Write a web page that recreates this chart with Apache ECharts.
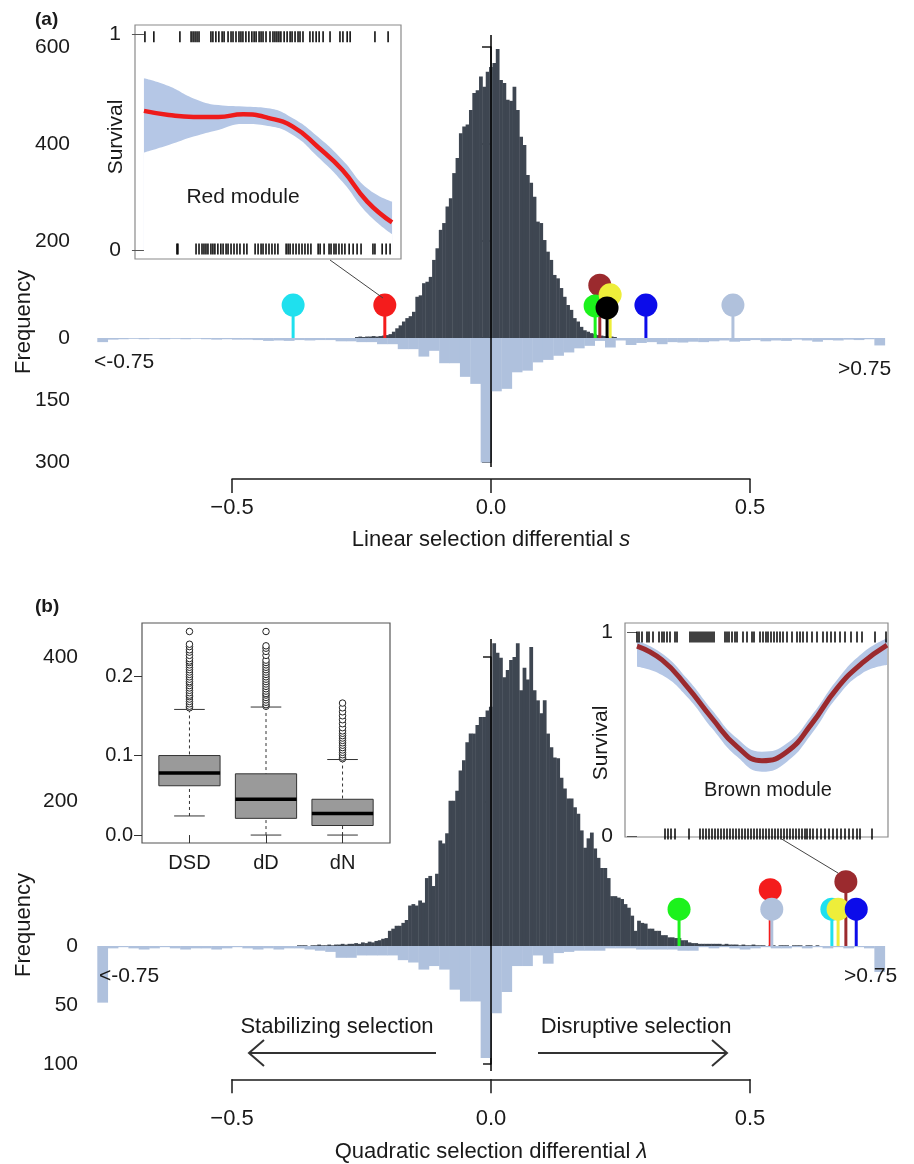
<!DOCTYPE html>
<html>
<head>
<meta charset="utf-8">
<script src="https://cdn.jsdelivr.net/npm/echarts@6/dist/echarts.min.js"></script>
<style>
  html, body { margin: 0; padding: 0; background: #fff; }
  #chart { width: 914px; height: 1164px; }
</style>
</head>
<body>
<div id="chart"></div>
<script>
const FONT = 'Liberation Sans, Arial, Helvetica, sans-serif';
const INK = '#1a1a1a';
const DARK = '#3e4651';
const LIGHT = '#afc1dd';
const BAND = '#b5c7e6';

// ---- panel (a): linear selection differential s ----
const aTopStart = -0.2625, aTopBin = 0.00647;
const aTopCounts = [2,3,2,3,3,4,3,4,5,6, 8,13,20,26,34,41,45,54,85,88,
  113,116,126,161,185,223,237,271,288,340, 371,422,436,440,470,505,511,539,518,549,
  559,567,596,532,526,491,489,518,470,415, 398,336,320,291,240,237,202,178,161,130,
  123,103,85,68,58,41,34,23,16,13, 10,8,6,5,4,3,3,2];

// wide bins below the axis (0.02 wide, outer bins are the overflow classes)
const binStart = -0.76, binWidth = 0.02;
const aBelowCounts = [10,4,3,2,3,2,3,2,3,2,3,4,3,4,4,5,7,6,7,5,6,5,5,8,8,10,10,15,15,27,27,45,31,61,61,94,111,301,
  129,123,83,79,59,53,43,35,25,19,7,23,6,17,12,10,15,10,11,9,10,8,6,9,7,5,8,6,7,4,6,9,5,6,4,5,3,18];

const aDotX = [-0.382, -0.205, 0.467, 0.299, 0.210, 0.201, 0.230, 0.224];
const aDotLevel = [68, 68, 68, 68, 109, 66, 89, 62];
const aDotColor = ['#1fe0ee', '#f41c1c', '#b0c1dc', '#0c0cea', '#9b2a2e', '#1cf21c', '#eeee3a', '#000000'];

// red module inset
const redU = [0, 0.1, 0.2, 0.3, 0.4, 0.5, 0.6, 0.7, 0.8, 0.9, 1];
const redFit = [0.644, 0.625, 0.616, 0.616, 0.628, 0.612, 0.571, 0.478, 0.370, 0.224, 0.128];
const redHi = [0.795, 0.759, 0.702, 0.671, 0.664, 0.656, 0.610, 0.525, 0.417, 0.286, 0.224];
const redLo = [0.451, 0.486, 0.525, 0.556, 0.583, 0.574, 0.532, 0.432, 0.316, 0.170, 0.073];
const redRugTop = [0.004,0.040,0.145,0.190,0.198,0.206,0.214,0.222,0.270,0.278,0.290,0.302,0.315,0.323,0.339,0.351,
  0.359,0.371,0.383,0.391,0.399,0.411,0.423,0.435,0.444,0.452,0.464,0.472,0.480,0.492,0.508,0.520,0.528,0.536,
  0.544,0.552,0.565,0.577,0.589,0.597,0.609,0.621,0.629,0.641,0.669,0.681,0.694,0.706,0.722,0.750,0.790,0.802,
  0.819,0.831,0.931,0.984];
const redRugBottom = [0.133,0.137,0.210,0.222,0.234,0.242,0.250,0.258,0.270,0.278,0.286,0.298,0.310,0.319,0.331,
  0.339,0.351,0.363,0.375,0.387,0.403,0.415,0.448,0.460,0.472,0.480,0.492,0.504,0.516,0.528,0.540,0.573,0.581,
  0.589,0.601,0.613,0.625,0.637,0.649,0.661,0.673,0.702,0.710,0.726,0.746,0.754,0.766,0.774,0.786,0.798,0.810,
  0.827,0.843,0.859,0.875,0.923,0.931,0.960,0.976,0.992];

// ---- panel (b): quadratic selection differential lambda ----
const bTopStart = -0.3745, bTopBin = 0.0065;
const bTopCounts = [1,1,1,0,1,1,2,1,1,2,1,2,2,3,2,3,3,4,3,5,4,6,5,7,8,
  10,11,21,24,28,28,32,36,56,58,56,63,60,94,97,83,100,146,142,156,201,201,215,243,257,282,294,294,306,317,317,326,331,
  419,406,399,372,382,396,400,419,354,385,369,414,354,340,322,340,294,275,261,260,233,218,204,204,192,183,
  160,136,149,157,135,122,108,108,94,69,69,67,65,58,53,42,21,35,32,31,24,24,21,21,15,15,12,12,11,11,8,8,
  5,4,4,3,3,3,3,3,3,3,2,3,2,2,2,1,2,1,1,2,1,1,1,0,1,1,0,1,1,1,0,1,1,1,0,1,1,0,1];
const bBelowCounts = [48,2,1,2,3,2,1,2,3,2,2,3,2,1,2,3,2,3,2,2,3,4,5,10,10,8,8,8,8,12,14,20,17,20,37,47,47,95,
  57,39,17,17,8,15,6,5,4,4,4,2,2,2,3,3,3,3,4,4,1,2,1,2,3,2,1,2,2,1,2,1,2,1,2,1,2,22];

const bDotX = [0.539, 0.542, 0.363, 0.685, 0.658, 0.670, 0.705];
const bDotLevel = [78, 51, 51, 89, 51, 51, 51];
const bDotColor = ['#f41c1c', '#b0c1dc', '#1cf21c', '#9b2a2e', '#1fe0ee', '#eeee3a', '#0c0cea'];

// boxplot inset
const boxNames = ['DSD', 'dD', 'dN'];
const boxStats = [
  [0.024, 0.062, 0.078, 0.100, 0.158],
  [0.000, 0.021, 0.045, 0.077, 0.161],
  [0.000, 0.012, 0.027, 0.045, 0.095]
];
const boxOutliers = [
  [0.160,0.162,0.165,0.168,0.171,0.174,0.176,0.179,0.182,0.185,0.188,0.191,0.193,0.196,0.199,0.202,0.205,
   0.208,0.211,0.214,0.217,0.219,0.222,0.226,0.230,0.233,0.237,0.240,0.256],
  [0.162,0.164,0.167,0.170,0.173,0.176,0.178,0.181,0.184,0.187,0.190,0.193,0.196,0.199,0.202,0.205,0.208,
   0.211,0.214,0.217,0.220,0.226,0.231,0.235,0.238,0.256],
  [0.096,0.098,0.101,0.104,0.107,0.110,0.113,0.116,0.119,0.122,0.125,0.128,0.131,0.135,0.140,0.145,0.150,
   0.155,0.160,0.166]
];

// brown module inset
const brownU = [0, 0.1, 0.2, 0.3, 0.4, 0.5, 0.6, 0.7, 0.8, 0.9, 1];
const brownFit = [0.931, 0.863, 0.732, 0.577, 0.438, 0.369, 0.413, 0.552, 0.724, 0.847, 0.936];
const brownHi = [0.957, 0.895, 0.772, 0.618, 0.479, 0.413, 0.454, 0.593, 0.765, 0.895, 0.969];
const brownLo = [0.830, 0.789, 0.683, 0.528, 0.389, 0.315, 0.364, 0.503, 0.680, 0.797, 0.838];
const brownRugTop = [0,0.008,0.02,0.04,0.048,0.064,0.088,0.1,0.108,0.12,0.132,0.152,0.16,0.212,0.22,0.228,0.236,
  0.244,0.252,0.26,0.268,0.276,0.284,0.292,0.3,0.308,0.352,0.36,0.368,0.38,0.392,0.4,0.424,0.44,0.46,0.468,
  0.492,0.504,0.516,0.524,0.536,0.548,0.56,0.572,0.584,0.6,0.62,0.64,0.652,0.664,0.68,0.7,0.72,0.744,0.76,
  0.776,0.792,0.812,0.832,0.856,0.88,0.9,0.952,0.996];
const brownRugBottom = [0.112,0.124,0.136,0.152,0.208,0.252,0.264,0.276,0.288,0.3,0.312,0.324,0.336,0.348,0.36,
  0.372,0.384,0.396,0.408,0.42,0.432,0.444,0.456,0.468,0.48,0.492,0.504,0.516,0.528,0.54,0.552,0.564,0.576,
  0.588,0.6,0.612,0.624,0.636,0.648,0.66,0.672,0.68,0.692,0.704,0.72,0.736,0.752,0.768,0.784,0.8,0.816,0.832,
  0.848,0.864,0.88,0.892,0.94];

// ---- helpers ----
function toBins(start, width, counts) {
  return counts.map((c, i) => [start + i * width, start + (i + 1) * width, c]);
}

function histItem(params, api) {
  const a = api.coord([api.value(0), 0]);
  const b = api.coord([api.value(1), api.value(2)]);
  return {
    type: 'rect',
    shape: { x: a[0], y: Math.min(a[1], b[1]), width: b[0] - a[0] + 0.4, height: Math.abs(b[1] - a[1]) },
    style: { fill: api.visual('color') }
  };
}

function dotRenderer(colors) {
  return function (params, api) {
    const base = api.coord([api.value(0), 0]);
    const top = api.coord([api.value(0), api.value(1)]);
    const col = colors[params.dataIndex];
    return {
      type: 'group',
      children: [
        { type: 'line', shape: { x1: base[0], y1: base[1], x2: top[0], y2: top[1] }, style: { stroke: col, lineWidth: 3 } },
        { type: 'circle', shape: { cx: top[0], cy: top[1], r: 11.5 }, style: { fill: col } }
      ]
    };
  };
}

function boxItem(params, api) {
  const pos = api.value(0);
  const lo = api.value(1), q1 = api.value(2), med = api.value(3), q3 = api.value(4), hi = api.value(5);
  const half = 0.4, cap = 0.2;
  const tl = api.coord([pos - half, q3]), br = api.coord([pos + half, q1]);
  const m0 = api.coord([pos - half, med]), m1 = api.coord([pos + half, med]);
  const pHi = api.coord([pos, hi]), pLo = api.coord([pos, lo]);
  const c0 = api.coord([pos - cap, hi]), c1 = api.coord([pos + cap, hi]);
  const d0 = api.coord([pos - cap, lo]), d1 = api.coord([pos + cap, lo]);
  return {
    type: 'group',
    children: [
      { type: 'line', shape: { x1: pHi[0], y1: pHi[1], x2: pHi[0], y2: tl[1] }, style: { stroke: '#333', lineWidth: 1, lineDash: [3, 3] } },
      { type: 'line', shape: { x1: pLo[0], y1: pLo[1], x2: pLo[0], y2: br[1] }, style: { stroke: '#333', lineWidth: 1, lineDash: [3, 3] } },
      { type: 'line', shape: { x1: c0[0], y1: c0[1], x2: c1[0], y2: c1[1] }, style: { stroke: '#333', lineWidth: 1 } },
      { type: 'line', shape: { x1: d0[0], y1: d0[1], x2: d1[0], y2: d1[1] }, style: { stroke: '#333', lineWidth: 1 } },
      { type: 'rect', shape: { x: tl[0], y: tl[1], width: br[0] - tl[0], height: br[1] - tl[1] }, style: { fill: '#9a9a9a', stroke: '#333', lineWidth: 1 } },
      { type: 'line', shape: { x1: m0[0], y1: m0[1], x2: m1[0], y2: m1[1] }, style: { stroke: '#000', lineWidth: 3.5 } }
    ]
  };
}

function minusFmt(v) {
  return (v < 0 ? '\u2212' : '') + Math.abs(v).toFixed(1);
}

// confidence band = upper curve filled down to 0, then lower curve filled white
function survivalSeries(idx, u, fit, lo, hi, rugTop, rugBottom, topLevel, bottomLevel, color, width) {
  const common = { type: 'line', xAxisIndex: idx, yAxisIndex: idx, smooth: true, symbol: 'none', silent: true };
  const rug = { type: 'scatter', xAxisIndex: idx, yAxisIndex: idx, symbol: 'rect', symbolSize: [1.5, 11], silent: true, z: 5,
    itemStyle: { color: '#000', opacity: 1 } };
  return [
    Object.assign({ lineStyle: { opacity: 0 }, areaStyle: { color: BAND, opacity: 1, origin: 0 }, z: 2,
      data: u.map((x, i) => [x, hi[i]]) }, common),
    Object.assign({ lineStyle: { opacity: 0 }, areaStyle: { color: '#fff', opacity: 1, origin: 0 }, z: 2,
      data: u.map((x, i) => [x, lo[i]]) }, common),
    Object.assign({ lineStyle: { color: color, width: width }, z: 4,
      data: u.map((x, i) => [x, fit[i]]) }, common),
    Object.assign({ data: rugTop.map(x => [x, topLevel]) }, rug),
    Object.assign({ data: rugBottom.map(x => [x, bottomLevel]) }, rug)
  ];
}

// ---- layout ----
const plotLeft = 97.3, plotRight = 24.1;
const hidden = { show: false };

const grids = [
  { left: plotLeft, right: plotRight, top: 47, height: 291 },      // 0 a hist above
  { left: plotLeft, right: plotRight, top: 338, height: 124 },     // 1 a hist below
  { left: 232, right: 164, top: 478, height: 1 },                  // 2 a x axis
  { left: 135, top: 25, width: 266, height: 234, show: true, borderColor: '#8a8a8a', borderWidth: 1.2, backgroundColor: '#fff' }, // 3 red inset
  { left: plotLeft, right: plotRight, top: 657, height: 289 },     // 4 b hist above
  { left: plotLeft, right: plotRight, top: 946, height: 118 },     // 5 b hist below
  { left: 232, right: 164, top: 1079, height: 1 },                 // 6 b x axis
  { left: 142, top: 623, width: 248, height: 220, show: true, borderColor: '#555', borderWidth: 1.2, backgroundColor: '#fff' }, // 7 box inset
  { left: 625, top: 623, width: 263, height: 214, show: true, borderColor: '#8a8a8a', borderWidth: 1.2, backgroundColor: '#fff' }  // 8 brown inset
];

const histX = { type: 'value', min: -0.76, max: 0.77, show: false };
const mainAxisLine = { show: true, lineStyle: { color: INK, width: 1.5 } };
const mainLabel = { color: INK, fontSize: 21, fontFamily: FONT };

const xAxes = [
  Object.assign({ gridIndex: 0 }, histX),
  Object.assign({ gridIndex: 1 }, histX),
  { gridIndex: 2, type: 'value', min: -0.5, max: 0.5, interval: 0.5, position: 'bottom',
    axisLine: mainAxisLine, axisTick: { show: true, length: 14, lineStyle: { color: INK, width: 1.5 } },
    axisLabel: { color: INK, fontSize: 22, fontFamily: FONT, margin: 18, formatter: minusFmt },
    splitLine: hidden,
    name: '{n|Linear selection differential }{i|s}', nameLocation: 'middle', nameGap: 50,
    nameTextStyle: { rich: { n: { fontSize: 22, fontFamily: FONT, color: INK }, i: { fontSize: 22, fontFamily: FONT, color: INK, fontStyle: 'italic' } } } },
  { gridIndex: 3, type: 'value', min: -0.036, max: 1.036, show: false },
  Object.assign({ gridIndex: 4 }, histX),
  Object.assign({ gridIndex: 5 }, histX),
  { gridIndex: 6, type: 'value', min: -0.5, max: 0.5, interval: 0.5, position: 'bottom',
    axisLine: mainAxisLine, axisTick: { show: true, length: 14, lineStyle: { color: INK, width: 1.5 } },
    axisLabel: { color: INK, fontSize: 22, fontFamily: FONT, margin: 29, formatter: minusFmt },
    splitLine: hidden,
    name: '{n|Quadratic selection differential }{i|\u03bb}', nameLocation: 'middle', nameGap: 62,
    nameTextStyle: { rich: { n: { fontSize: 22, fontFamily: FONT, color: INK }, i: { fontSize: 22, fontFamily: FONT, color: INK, fontStyle: 'italic' } } } },
  { gridIndex: 7, type: 'value', min: 0.38, max: 3.62, position: 'bottom',
    axisLine: hidden, splitLine: hidden,
    axisTick: { show: true, length: 8, customValues: [1, 2, 3], lineStyle: { color: '#333' } },
    axisLabel: { color: INK, fontSize: 20, fontFamily: FONT, margin: 10, customValues: [1, 2, 3],
      formatter: v => boxNames[Math.round(v) - 1] } },
  { gridIndex: 8, type: 'value', min: -0.048, max: 1.004, show: false }
];

const yAxes = [
  { gridIndex: 0, type: 'value', min: 0, max: 600, interval: 200, offset: 12.3,
    axisLine: mainAxisLine, axisTick: { show: true, length: 9, lineStyle: { color: INK, width: 1.5 } },
    axisLabel: Object.assign({ margin: 15 }, mainLabel), splitLine: hidden },
  { gridIndex: 1, type: 'value', min: 0, max: 300, interval: 150, inverse: true, offset: 12.3,
    axisLine: mainAxisLine, axisTick: { show: true, length: 9, lineStyle: { color: INK, width: 1.5 } },
    axisLabel: Object.assign({ margin: 15, formatter: v => v === 0 ? '' : String(v) }, mainLabel), splitLine: hidden },
  { gridIndex: 2, type: 'value', show: false },
  { gridIndex: 3, type: 'value', min: -0.042, max: 1.042, axisLine: hidden, splitLine: hidden,
    axisTick: { show: true, length: 12, customValues: [0, 1], lineStyle: { color: '#555' } },
    axisLabel: Object.assign({ margin: 14, customValues: [0, 1] }, mainLabel) },
  { gridIndex: 4, type: 'value', min: 0, max: 400, interval: 200, offset: 9.3,
    axisLine: mainAxisLine, axisTick: { show: true, length: 8, lineStyle: { color: INK, width: 1.5 } },
    axisLabel: Object.assign({ margin: 10 }, mainLabel), splitLine: hidden },
  { gridIndex: 5, type: 'value', min: 0, max: 100, interval: 50, inverse: true, offset: 9.3,
    axisLine: mainAxisLine, axisTick: { show: true, length: 8, lineStyle: { color: INK, width: 1.5 } },
    axisLabel: Object.assign({ margin: 10, formatter: v => v === 0 ? '' : String(v) }, mainLabel), splitLine: hidden },
  { gridIndex: 6, type: 'value', show: false },
  { gridIndex: 7, type: 'value', min: -0.01, max: 0.2667, axisLine: hidden, splitLine: hidden,
    axisTick: { show: true, length: 8, customValues: [0, 0.1, 0.2], lineStyle: { color: '#333' } },
    axisLabel: { color: INK, fontSize: 20, fontFamily: FONT, margin: 9, customValues: [0, 0.1, 0.2], formatter: v => v.toFixed(1) } },
  { gridIndex: 8, type: 'value', min: -0.005, max: 1.044, axisLine: hidden, splitLine: hidden,
    axisTick: { show: true, length: 10, customValues: [0, 1], lineStyle: { color: '#555' } },
    axisLabel: Object.assign({ margin: 12, customValues: [0, 1] }, mainLabel) }
];

function histSeries(idx, bins, color) {
  return { type: 'custom', xAxisIndex: idx, yAxisIndex: idx, renderItem: histItem, clip: false, silent: true,
    itemStyle: { color: color }, encode: { x: [0, 1], y: 2 }, data: bins };
}

function centreLine(idx, top) {
  return { type: 'line', xAxisIndex: idx, yAxisIndex: idx, clip: false, symbol: 'none', silent: true, z: 6,
    lineStyle: { color: '#000', width: 1.5 }, data: [[0, 0], [0, top]] };
}

function dotSeries(idx, xs, levels, colors) {
  return { type: 'custom', xAxisIndex: idx, yAxisIndex: idx, renderItem: dotRenderer(colors), clip: false, silent: true, z: 5,
    encode: { x: 0, y: 1 }, data: xs.map((x, i) => [x, levels[i]]) };
}

const series = [
  histSeries(0, toBins(aTopStart, aTopBin, aTopCounts), DARK),
  histSeries(1, toBins(binStart, binWidth, aBelowCounts), LIGHT),
  centreLine(0, 625),
  centreLine(1, 312),
  dotSeries(0, aDotX, aDotLevel, aDotColor),
  ...survivalSeries(3, redU, redFit, redLo, redHi, redRugTop, redRugBottom, 0.988, 0.004, '#ee1b1b', 4.5),

  histSeries(4, toBins(bTopStart, bTopBin, bTopCounts), DARK),
  histSeries(5, toBins(binStart, binWidth, bBelowCounts), LIGHT),
  centreLine(4, 425),
  centreLine(5, 106),
  dotSeries(4, bDotX, bDotLevel, bDotColor),
  { type: 'custom', xAxisIndex: 7, yAxisIndex: 7, renderItem: boxItem, silent: true, z: 3,
    encode: { x: 0, y: [1, 2, 3, 4, 5] }, data: boxStats.map((s, i) => [i + 1].concat(s)) },
  { type: 'scatter', xAxisIndex: 7, yAxisIndex: 7, symbol: 'circle', symbolSize: 6.5, silent: true, z: 4,
    itemStyle: { color: '#fff', borderColor: '#222', borderWidth: 1, opacity: 1 },
    data: boxOutliers.flatMap((list, i) => list.map(v => [i + 1, v])) },
  ...survivalSeries(8, brownU, brownFit, brownLo, brownHi, brownRugTop, brownRugBottom, 0.975, 0.01, '#9b2a2e', 5)
];

function txt(x, y, text, opts) {
  return { type: 'text', x: x, y: y, z: 10, silent: true,
    style: Object.assign({ text: text, fill: INK, font: '21px ' + FONT, textAlign: 'center', textVerticalAlign: 'middle' }, opts || {}) };
}

const graphics = [
  txt(35, 20, '(a)', { font: 'bold 19px ' + FONT, textAlign: 'left' }),
  txt(35, 607, '(b)', { font: 'bold 19px ' + FONT, textAlign: 'left' }),
  Object.assign(txt(24, 322, 'Frequency', { font: '22px ' + FONT }), { rotation: Math.PI / 2 }),
  Object.assign(txt(24, 925, 'Frequency', { font: '22px ' + FONT }), { rotation: Math.PI / 2 }),
  Object.assign(txt(116, 137, 'Survival', { font: '21px ' + FONT }), { rotation: Math.PI / 2 }),
  Object.assign(txt(601, 743, 'Survival', { font: '21px ' + FONT }), { rotation: Math.PI / 2 }),
  txt(243, 197, 'Red module', { font: '21px ' + FONT }),
  txt(768, 790, 'Brown module', { font: '20px ' + FONT }),
  txt(94, 362, '<-0.75', { textAlign: 'left' }),
  txt(838, 369, '>0.75', { textAlign: 'left' }),
  txt(99, 976, '<-0.75', { textAlign: 'left' }),
  txt(844, 976, '>0.75', { textAlign: 'left' }),
  txt(337, 1027, 'Stabilizing selection', { font: '22px ' + FONT }),
  txt(636, 1027, 'Disruptive selection', { font: '22px ' + FONT }),
  { type: 'line', silent: true, z: 9, shape: { x1: 330, y1: 260, x2: 383, y2: 298 }, style: { stroke: '#444', lineWidth: 1 } },
  { type: 'line', silent: true, z: 9, shape: { x1: 780, y1: 838, x2: 838, y2: 873 }, style: { stroke: '#444', lineWidth: 1 } },
  { type: 'polyline', silent: true, z: 9, shape: { points: [[436, 1053], [249, 1053]] }, style: { stroke: '#333', lineWidth: 2, fill: null } },
  { type: 'polyline', silent: true, z: 9, shape: { points: [[264, 1040], [249, 1053], [264, 1066]] }, style: { stroke: '#333', lineWidth: 2, fill: null } },
  { type: 'polyline', silent: true, z: 9, shape: { points: [[538, 1053], [727, 1053]] }, style: { stroke: '#333', lineWidth: 2, fill: null } },
  { type: 'polyline', silent: true, z: 9, shape: { points: [[712, 1040], [727, 1053], [712, 1066]] }, style: { stroke: '#333', lineWidth: 2, fill: null } }
];

const chart = echarts.init(document.getElementById('chart'), null, { renderer: 'canvas' });
chart.setOption({
  animation: false,
  backgroundColor: '#fff',
  textStyle: { fontFamily: FONT },
  grid: grids,
  xAxis: xAxes,
  yAxis: yAxes,
  series: series,
  graphic: graphics
});
</script>
</body>
</html>
